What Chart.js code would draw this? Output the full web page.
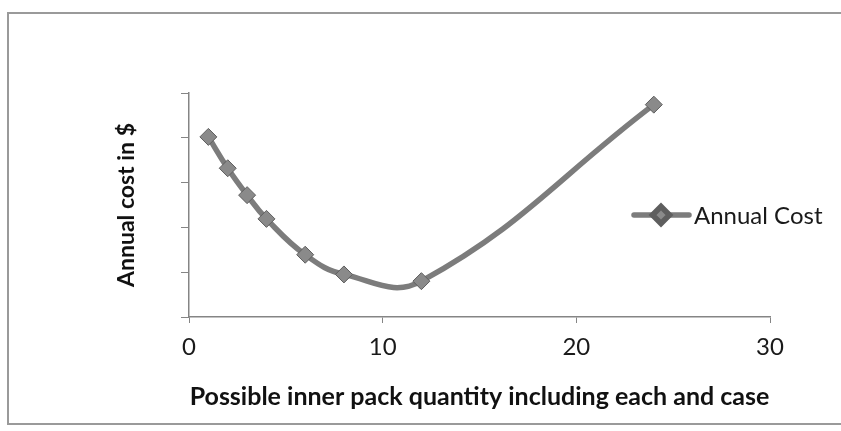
<!DOCTYPE html>
<html lang="en">
<head>
    <meta charset="UTF-8">
    <title>Annual Cost</title>
    <script src="https://cdn.jsdelivr.net/npm/chart.js@4.4.0/dist/chart.umd.min.js"></script>
    <style>
        html, body { margin: 0; padding: 0; background: #fff; }
        #wrap { position: relative; width: 841px; height: 431px; }
    </style>
</head>
<body>
    <div id="wrap"><canvas id="costChart"></canvas></div>

    <script>
        // data (y axis has no labels, so units are tick steps)
        const packQty = [1, 2, 3, 4, 6, 8, 12, 24];
        const annualCost = [4.02, 3.32, 2.72, 2.19, 1.39, 0.95, 0.80, 4.74];
        const xTicks = [0, 10, 20, 30];
        const yTicks = [0, 1, 2, 3, 4, 5];
        const seriesName = 'Annual Cost';
        const xTitle = 'Possible inner pack quantity including each and case';
        const yTitle = 'Annual cost in $';

        const lineColor = '#7c7c7c';
        const markFill = '#8a8a8a';
        const markEdge = '#5e5e5e';
        const axisColor = '#858585';

        // outer frame like the Excel chart box
        const framePlugin = {
            id: 'frame',
            beforeDraw(chart) {
                const c = chart.ctx;
                c.save();
                c.strokeStyle = '#9a9a9a';
                c.lineWidth = 2;
                c.strokeRect(8, 13, chart.width + 10, 411);
                c.restore();
            }
        };

        // legend sits inside the plot on the right, drawn by hand
        const legendPlugin = {
            id: 'insideLegend',
            afterDraw(chart) {
                const c = chart.ctx;
                const ds = chart.data.datasets[0];
                const y = 215;
                c.save();
                c.strokeStyle = ds.borderColor;
                c.lineWidth = ds.borderWidth;
                c.lineCap = 'round';
                c.beginPath();
                c.moveTo(634, y);
                c.lineTo(689, y);
                c.stroke();
                c.fillStyle = ds.pointBackgroundColor;
                c.strokeStyle = ds.pointBorderColor;
                Chart.helpers.drawPoint(c, {
                    pointStyle: 'rectRot', radius: ds.pointRadius, borderWidth: 1, rotation: 0
                }, 661, y);
                c.fillStyle = '#1a1a1a';
                c.font = '24px Lato';
                c.textBaseline = 'middle';
                c.fillText(ds.label, 694, y + 1);
                c.restore();
            }
        };

        const ctx = document.getElementById('costChart').getContext('2d');
        new Chart(ctx, {
            type: 'line',
            data: {
                datasets: [{
                    label: seriesName,
                    data: packQty.map((q, i) => ({ x: q, y: annualCost[i] })),
                    borderColor: lineColor,
                    borderWidth: 5.5,
                    tension: 0.42,
                    fill: false,
                    pointStyle: 'rectRot',
                    pointRadius: 8.5,
                    pointBackgroundColor: markFill,
                    pointBorderColor: markEdge,
                    pointBorderWidth: 1
                }]
            },
            options: {
                responsive: true,
                maintainAspectRatio: false,
                animation: false,
                layout: { padding: { top: 93, right: 71, bottom: 0, left: 100 } },
                plugins: {
                    legend: { display: false },
                    tooltip: { enabled: false }
                },
                scales: {
                    x: {
                        type: 'linear',
                        min: xTicks[0],
                        max: xTicks[xTicks.length - 1],
                        afterBuildTicks: (s) => { s.ticks = xTicks.map(v => ({ value: v })); },
                        afterFit: (s) => { s.height = 114; },
                        grid: { drawOnChartArea: false, color: axisColor, tickLength: 6 },
                        border: { color: axisColor, width: 1.5 },
                        ticks: { color: '#1a1a1a', padding: 10, font: { family: 'Lato', size: 24 } },
                        title: {
                            display: true,
                            text: xTitle,
                            color: '#111',
                            font: { family: 'Lato', size: 25, weight: 'bold' },
                            padding: { top: 0, bottom: 19 }
                        }
                    },
                    y: {
                        min: yTicks[0],
                        max: yTicks[yTicks.length - 1],
                        afterBuildTicks: (s) => { s.ticks = yTicks.map(v => ({ value: v })); },
                        afterFit: (s) => { s.width = 89; },
                        grid: { drawOnChartArea: false, color: axisColor, tickLength: 8 },
                        border: { color: axisColor, width: 1.5 },
                        ticks: { display: false },
                        title: {
                            display: true,
                            text: yTitle,
                            color: '#111',
                            font: { family: 'Lato', size: 23, weight: 'bold' },
                            padding: { top: 13, bottom: 0 }
                        }
                    }
                }
            },
            plugins: [framePlugin, legendPlugin]
        });
    </script>
</body>
</html>
